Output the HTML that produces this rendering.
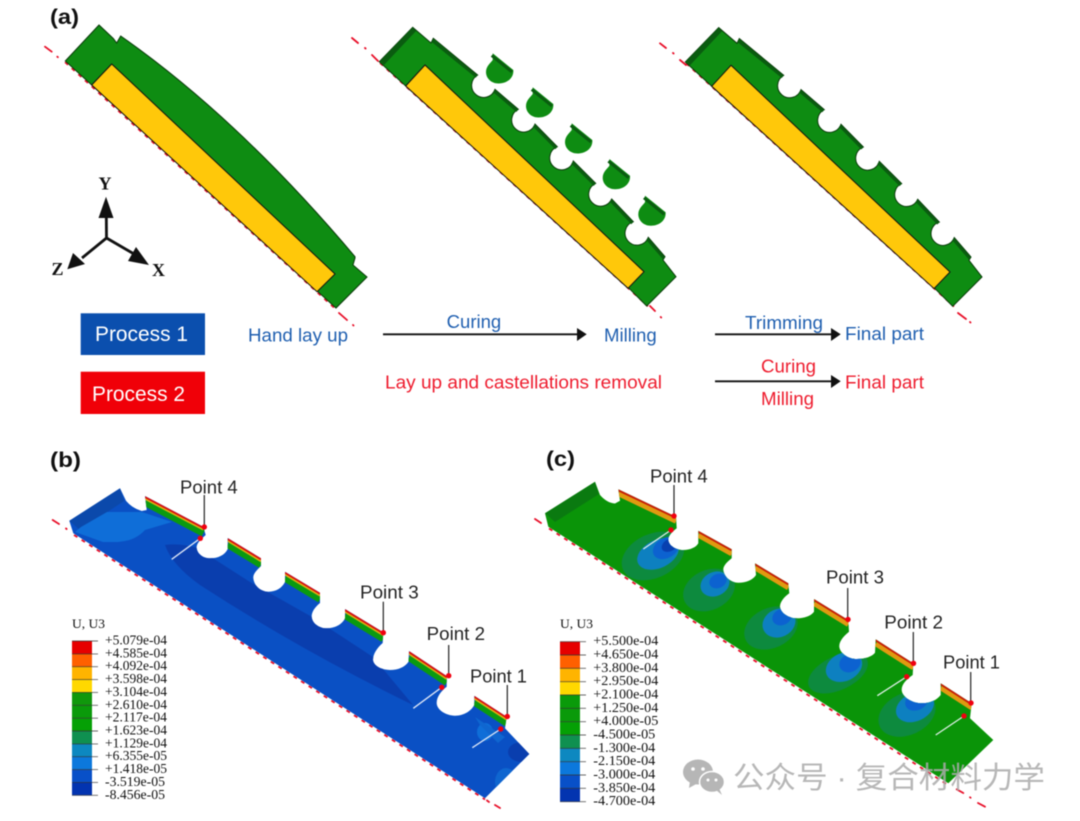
<!DOCTYPE html>
<html><head><meta charset="utf-8"><style>
html,body{margin:0;padding:0;background:#fff;width:1080px;height:821px;overflow:hidden}
svg{display:block;filter:blur(.4px)}
.s{font-family:"Liberation Sans",sans-serif}
.b{font-family:"Liberation Sans",sans-serif;font-weight:bold}
.l{font-family:"Liberation Serif",serif;fill:#111}
</style></head><body>
<svg width="1080" height="821" viewBox="0 0 1080 821" xmlns="http://www.w3.org/2000/svg">
<defs>
<path id="bodyB" d="M69.3 520.7 L120 488.3 L126 500.7 Q132 508 141.7 511 L146.7 510 L145 496 L203.3 526.7 L205.7 535 C200 540 196 544 196.7 548.3 C197.5 554 203 558.3 210 558.3 C218 558.3 225 555 227.7 549 L227.7 538 L261 558.3 L261 566 C256 571 253 574 253.3 578 C254 586 261 591.7 268.3 591.7 C276 591.7 282 588 285 582 L285 571.7 L320 592.7 L320 603 C315 607 311.5 612 311.7 616.7 C312 623 319 628.3 326.7 628.3 C334 628.3 342 625 345 618.3 L345 609 L383.3 632.3 L382.7 643 C377 648 373 654 373 660 C373.5 666 382 670 390 670 C398 670 405 667 408.5 661.7 L409 651 L446.7 676 L446.7 686.7 C441 691 436.5 697 436.7 703.3 C437 710 446 715.7 455 715.7 C464 715.7 471 711 474.3 705 L474.3 695.7 L506.7 716.7 L505 728.3 L529.3 754 L485 798.3 L73.3 533.3 Z"/>
<path id="bodyC" d="M545 513.3 L595 481.7 L600 495 Q607 503 615 503.5 L620 500.7 L618.3 489.3 L676 516.7 L676.7 528.3 C672 532 668 536 668.3 540 C669 546 676 550 683.3 550 C690 550 696 547.5 698.3 543.3 L698.3 530.7 L731.7 549.3 L731.7 558.3 C727 562 723 566 723.3 570 C724 577 731 582.7 738.3 582.7 C746 582.7 753 580 756 575 L755 563.3 L788.3 583.3 L789.3 593.3 C784 597 780 602 780 606.7 C780.5 613 789 618.3 796.7 618.3 C804 618.3 811 616 814 611.7 L814 599 L848.3 620 L849 631.7 C844 636 839 641 839.3 646.7 C840 653 848 659 856.7 659 C865 659 872 656.5 875 652.7 L875.7 639.3 L913.3 663.3 L912.7 675 C907 679 901.5 684 901.7 690 C902 697 912 703.3 921.7 703.3 C930 703.3 937 700 940.7 695 L940.7 683.3 L971.7 703.3 L970 718.3 L993.3 740 L948.3 783.3 L548.3 526.7 Z"/>
<clipPath id="cb"><use href="#bodyB"/></clipPath>
<clipPath id="cc"><use href="#bodyC"/></clipPath>
<path id="fb" d="M145 496 L203.3 526.7 M227.7 538 L261 558.3 M285 571.7 L320 592.7 M345 609 L383.3 632.3 M409 651 L446.7 676 M474.3 695.7 L506.7 716.7" fill="none"/>
<path id="fc" d="M618.3 489.3 L676 516.7 M698.3 530.7 L731.7 549.3 M755 563.3 L788.3 583.3 M814 599 L848.3 620 M875.7 639.3 L913.3 663.3 M940.7 683.3 L971.7 703.3" fill="none"/>
<g id="part">
<path d="M379.3 61.7 L412.7 27.3 L431 43 L433.3 38.3 L477.7 75 A12 12 0 1 0 495 89.3 L518.3 109.3 A12 12 0 1 0 535 124 L557.3 146.7 A12 12 0 1 0 573.3 161 L595.7 183.3 A12 12 0 1 0 611.7 199 L633.3 221.7 A12 12 0 1 0 648.3 237.3 L665 256.7 L663 260 L676 276.7 L646.7 306 L629 288.3 L405.7 86 Z" fill="#0e8c12" stroke="#0a3a0a" stroke-width="1"/>
<path d="M380 61 L412.7 27.3 L416 31 L384 65 Z" fill="#0a5c10"/>
<path d="M433.3 39 L477.7 75 M495 89.3 L518.3 109.3 M535 124 L557.3 146.7 M573.3 161 L595.7 183.3 M611.7 199 L633.3 221.7 M648.3 237.3 L665 256.7" stroke="#0a5c10" stroke-width="3" fill="none" transform="translate(-1,1.5)"/>
<polygon points="425,65 644,271.7 628,288.3 405.7,86" fill="#ffc80a" stroke="#111" stroke-width="1"/>
</g>
<g id="drop">
<path d="M492.7 53.3 L513.3 70 C514 78 507 83.5 498.5 83.5 C491 83.5 486 78 486 72 C486 66 491 62.5 492.7 60 Z" fill="#0e8c12"/>
<path d="M492.7 54 L513 70.5" stroke="#0a5c10" stroke-width="3" transform="translate(-1,1.5)"/>
</g>
</defs>

<!-- red centre lines panel a -->
<g stroke="#e8102a" stroke-width="1.8" fill="none" stroke-linecap="round">
<path d="M45 46.7 L51.7 51.7 M57.3 56.7 L57.9 57.2 M339 313 L347 320 M353 325 L353.5 325.5"/>
<path d="M352 38 L358 43 M365 48 L365.6 48.5 M372 55 L378 61 M650 306 L655 311 M660.7 317 L661.2 317.5"/>
<path d="M660 43.3 L666 48 M673 53 L673.6 53.5 M680 60 L686 65 M958 313 L966 319 M970 322 L970.5 322.5"/>
</g>
<g fill="none" stroke="#e8102a" stroke-width="1.6" stroke-dasharray="4 5">
<line x1="65" y1="62.2" x2="336" y2="309.5"/>
<line x1="380" y1="63" x2="648" y2="306.3"/>
<line x1="686" y1="63.3" x2="954" y2="306.6"/>
</g>

<!-- Panel a1 -->
<path d="M65.3 61 L99 25 L113.3 38.5 L116.7 43 L120.7 36 Q238 118 355 256.7 L355 258 L353 265 L367 277 L336 308 L318 291.7 L91.7 85 Z" fill="#0e8c12" stroke="#0a3a0a" stroke-width="1"/>
<polygon points="111.7,64 335,274 317,291.7 91.7,85" fill="#ffc80a" stroke="#111" stroke-width="1"/>

<!-- Panel a2 -->
<use href="#part"/>
<use href="#drop"/>
<use href="#drop" transform="translate(40,34)"/>
<use href="#drop" transform="translate(79,70)"/>
<use href="#drop" transform="translate(116.7,105.7)"/>
<use href="#drop" transform="translate(152.3,142.3)"/>

<!-- Panel a3 -->
<use href="#part" transform="translate(306,0.3)"/>

<!-- axes -->
<g stroke="#111" stroke-width="2.8" fill="#111">
<line x1="106.5" y1="238" x2="106.3" y2="215"/>
<line x1="106.5" y1="238" x2="82" y2="258"/>
<line x1="106.5" y1="238" x2="134" y2="254"/>
<polygon points="106,196.7 113.5,218 98.5,218" stroke="none"/>
<polygon points="67.3,269.3 73,253 85,264" stroke="none"/>
<polygon points="149,265 128,261 136,247" stroke="none"/>
</g>
<g font-family="Liberation Serif,serif" font-weight="bold" font-size="18" fill="#111" text-anchor="middle">
<text x="105" y="189.5">Y</text><text x="57.5" y="275">Z</text><text x="158.5" y="276">X</text>
</g>

<text class="b" x="50" y="24" font-size="21" fill="#111" textLength="29" lengthAdjust="spacingAndGlyphs">(a)</text>
<text class="b" x="50" y="467" font-size="21" fill="#111" textLength="31" lengthAdjust="spacingAndGlyphs">(b)</text>
<text class="b" x="546" y="466" font-size="21" fill="#111" textLength="29" lengthAdjust="spacingAndGlyphs">(c)</text>

<!-- process boxes -->
<rect x="80.7" y="313.3" width="124.3" height="41.7" fill="#0b4fae"/>
<rect x="80.7" y="371.7" width="124.3" height="42.3" fill="#f00008"/>
<text class="s" x="95" y="341" font-size="21" fill="#fff" textLength="93" lengthAdjust="spacingAndGlyphs">Process 1</text>
<text class="s" x="92" y="401" font-size="21" fill="#fff" textLength="93" lengthAdjust="spacingAndGlyphs">Process 2</text>

<!-- labels -->
<g class="s" font-size="18" fill="#1f5fb0">
<text x="248" y="341.7" textLength="100" lengthAdjust="spacingAndGlyphs">Hand lay up</text>
<text x="446.7" y="328" textLength="54.5" lengthAdjust="spacingAndGlyphs">Curing</text>
<text x="604" y="341.7" textLength="52.7" lengthAdjust="spacingAndGlyphs">Milling</text>
<text x="745" y="329" textLength="78" lengthAdjust="spacingAndGlyphs">Trimming</text>
<text x="845" y="340" textLength="79" lengthAdjust="spacingAndGlyphs">Final part</text>
</g>
<g class="s" font-size="18" fill="#ee1c2e">
<text x="385" y="388.7" textLength="277" lengthAdjust="spacingAndGlyphs">Lay up and castellations removal</text>
<text x="761" y="372.7" textLength="55" lengthAdjust="spacingAndGlyphs">Curing</text>
<text x="761" y="405" textLength="53" lengthAdjust="spacingAndGlyphs">Milling</text>
<text x="845" y="388.3" textLength="79" lengthAdjust="spacingAndGlyphs">Final part</text>
</g>
<g stroke="#111" stroke-width="1.8" fill="#111">
<line x1="383" y1="334.3" x2="578" y2="334.3"/>
<polygon points="586.7,334.3 577,328 577,341" stroke="none"/>
<line x1="715" y1="334.3" x2="833" y2="334.3"/>
<polygon points="840.7,334.3 831,328 831,341" stroke="none"/>
<line x1="715" y1="381.3" x2="833" y2="381.3"/>
<polygon points="840.7,381.3 831,375 831,388" stroke="none"/>
</g>

<!-- Panel b -->
<g fill="none" stroke="#e8102a" stroke-width="1.8" stroke-linecap="round">
<path d="M52.7 520 L59 524 M66 528.5 L66.6 529 M487 800.5 L489 802 M495 805 L500 808"/>
<line x1="74" y1="535" x2="485" y2="799.5" stroke-dasharray="4 5" stroke-linecap="butt"/>
</g>
<use href="#bodyB" fill="#0a50c4"/>
<g clip-path="url(#cb)">
<polygon points="69.3,520.7 120,488.3 124,501 80,530" fill="#0b49ab"/>
<path d="M75 532 L81 527 L107 512 L142 512 L172 522 L145 530 Q135 541 118 542 L103 542 Z" fill="#0f6ed8"/>
<path d="M165 545 Q180 543 197 548 L250 582 L312 617 L373 657 L413 705 Q300 650 200 585 Q172 565 165 545 Z" fill="#0a3eae"/>
<ellipse cx="485" cy="732" rx="8" ry="9" fill="#0f6ed8"/>
<path d="M475 717 L505 737 L498 743 L480 725 Z" fill="#0f66d0"/>
<ellipse cx="522" cy="752" rx="14" ry="10" fill="#0a3eae"/>
<ellipse cx="506" cy="782" rx="11" ry="14" fill="#0f66d0"/>
<use href="#fb" stroke="#0a9a10" stroke-width="7" transform="translate(0,6.5)"/>
<use href="#fb" stroke="#e0b010" stroke-width="2" transform="translate(0,2.8)"/>
<use href="#fb" stroke="#d81010" stroke-width="2" transform="translate(0,1)"/>
</g>
<g stroke="#dfe8f8" stroke-width="1.3">
<line x1="200.3" y1="538.3" x2="171.7" y2="559.3"/>
<line x1="441.7" y1="687.3" x2="413.3" y2="708.3"/>
<line x1="500.7" y1="729" x2="472.3" y2="747.7"/>
</g>
<g stroke="#222" stroke-width="1.2">
<line x1="204.3" y1="495" x2="204.3" y2="527"/>
<line x1="383.3" y1="601.7" x2="383.3" y2="632"/>
<line x1="448.7" y1="645" x2="448.7" y2="675.7"/>
<line x1="507.3" y1="685" x2="507.3" y2="716"/>
</g>
<g fill="#f00010">
<circle cx="204.3" cy="527" r="2.7"/><circle cx="200.3" cy="538.3" r="2.7"/>
<circle cx="383.3" cy="632.7" r="2.7"/>
<circle cx="448.7" cy="675.7" r="2.7"/><circle cx="441.7" cy="687.3" r="2.7"/>
<circle cx="507.3" cy="716.5" r="2.7"/><circle cx="500.7" cy="729" r="2.7"/>
</g>
<g class="s" font-size="18" fill="#222">
<text x="180" y="493.3" textLength="57.7" lengthAdjust="spacingAndGlyphs">Point 4</text>
<text x="360" y="598.3" textLength="58.7" lengthAdjust="spacingAndGlyphs">Point 3</text>
<text x="426.7" y="640" textLength="58.3" lengthAdjust="spacingAndGlyphs">Point 2</text>
<text x="470" y="682.7" textLength="57" lengthAdjust="spacingAndGlyphs">Point 1</text>
</g>

<!-- Legend b -->
<g>
<rect x="72" y="641" width="20" height="13" fill="#e60000"/>
<rect x="72" y="653.9" width="20" height="13" fill="#ff6000"/>
<rect x="72" y="666.7" width="20" height="13" fill="#ffb400"/>
<rect x="72" y="679.6" width="20" height="13" fill="#ffd800"/>
<rect x="72" y="692.4" width="20" height="13" fill="#10980c"/>
<rect x="72" y="705.3" width="20" height="13" fill="#0a9a0a"/>
<rect x="72" y="718.2" width="20" height="13" fill="#05a005"/>
<rect x="72" y="731" width="20" height="13" fill="#0f9050"/>
<rect x="72" y="743.9" width="20" height="13" fill="#0d88c0"/>
<rect x="72" y="756.7" width="20" height="13" fill="#0c78dc"/>
<rect x="72" y="769.6" width="20" height="13" fill="#0850c8"/>
<rect x="72" y="782.4" width="20" height="12.9" fill="#0334b0"/>
</g>
<g stroke="#333" stroke-width="0.9" opacity=".75">
<line x1="72" x2="98" y1="641" y2="641"/><line x1="72" x2="98" y1="653.9" y2="653.9"/><line x1="72" x2="98" y1="666.7" y2="666.7"/><line x1="72" x2="98" y1="679.6" y2="679.6"/><line x1="72" x2="98" y1="692.4" y2="692.4"/><line x1="72" x2="98" y1="705.3" y2="705.3"/><line x1="72" x2="98" y1="718.2" y2="718.2"/><line x1="72" x2="98" y1="731" y2="731"/><line x1="72" x2="98" y1="743.9" y2="743.9"/><line x1="72" x2="98" y1="756.7" y2="756.7"/><line x1="72" x2="98" y1="769.6" y2="769.6"/><line x1="72" x2="98" y1="782.4" y2="782.4"/><line x1="72" x2="98" y1="795.3" y2="795.3"/>
</g>
<g class="l" font-size="13.5">
<text x="72" y="628" font-size="13" textLength="33" lengthAdjust="spacingAndGlyphs">U, U3</text>
<text x="105" y="644.5" textLength="62" lengthAdjust="spacingAndGlyphs">+5.079e-04</text>
<text x="105" y="657.4" textLength="62" lengthAdjust="spacingAndGlyphs">+4.585e-04</text>
<text x="105" y="670.2" textLength="62" lengthAdjust="spacingAndGlyphs">+4.092e-04</text>
<text x="105" y="683.1" textLength="62" lengthAdjust="spacingAndGlyphs">+3.598e-04</text>
<text x="105" y="695.9" textLength="62" lengthAdjust="spacingAndGlyphs">+3.104e-04</text>
<text x="105" y="708.8" textLength="62" lengthAdjust="spacingAndGlyphs">+2.610e-04</text>
<text x="105" y="721.7" textLength="62" lengthAdjust="spacingAndGlyphs">+2.117e-04</text>
<text x="105" y="734.5" textLength="62" lengthAdjust="spacingAndGlyphs">+1.623e-04</text>
<text x="105" y="747.4" textLength="62" lengthAdjust="spacingAndGlyphs">+1.129e-04</text>
<text x="105" y="760.2" textLength="62" lengthAdjust="spacingAndGlyphs">+6.355e-05</text>
<text x="105" y="773.1" textLength="62" lengthAdjust="spacingAndGlyphs">+1.418e-05</text>
<text x="105" y="785.9" textLength="60" lengthAdjust="spacingAndGlyphs">-3.519e-05</text>
<text x="105" y="798.8" textLength="60" lengthAdjust="spacingAndGlyphs">-8.456e-05</text>
</g>

<!-- Panel c -->
<g fill="none" stroke="#e8102a" stroke-width="1.8" stroke-linecap="round">
<path d="M535 519 L541 523 M956.7 789.3 L963.3 793 M970 797.3 L970.6 797.7 M978 803 L985 806.7"/>
<line x1="549" y1="528.5" x2="948" y2="785" stroke-dasharray="4 5" stroke-linecap="butt"/>
</g>
<use href="#bodyC" fill="#0a9408"/>
<g clip-path="url(#cc)">
<polygon points="545,513 595,481.7 599,494 555,522" fill="#0a7a10"/>
<g transform="rotate(-25 653 556)"><ellipse cx="653" cy="556" rx="33" ry="22" fill="#0d8a3e"/></g>
<g transform="rotate(-25 658 554)"><ellipse cx="658" cy="554" rx="22" ry="14" fill="#0d80c0"/></g>
<g transform="rotate(-30 666 548)"><ellipse cx="666" cy="548" rx="14" ry="10" fill="#0c62d0"/></g>
<g transform="rotate(-30 670 545)"><ellipse cx="670" cy="545" rx="9" ry="6" fill="#0840b0"/></g>
<g transform="rotate(-25 709 590)"><ellipse cx="709" cy="590" rx="27" ry="20" fill="#0d8a3e"/></g>
<g transform="rotate(-25 715 584)"><ellipse cx="715" cy="584" rx="15" ry="12" fill="#0d80c0"/></g>
<g transform="rotate(-25 718 581)"><ellipse cx="718" cy="581" rx="9" ry="7" fill="#0c62d0"/></g>
<g transform="rotate(-25 771 628)"><ellipse cx="771" cy="628" rx="28" ry="20" fill="#0d8a3e"/></g>
<g transform="rotate(-25 779 623)"><ellipse cx="779" cy="623" rx="17" ry="14" fill="#0d80c0"/></g>
<g transform="rotate(-25 782 617)"><ellipse cx="782" cy="617" rx="10" ry="8" fill="#0c62d0"/></g>
<g transform="rotate(-25 838 673)"><ellipse cx="838" cy="673" rx="32" ry="17" fill="#0d8a3e"/></g>
<g transform="rotate(-25 844 667)"><ellipse cx="844" cy="667" rx="19" ry="14" fill="#0d80c0"/></g>
<g transform="rotate(-25 850 663)"><ellipse cx="850" cy="663" rx="11" ry="9" fill="#0c62d0"/></g>
<g transform="rotate(-25 907 714)"><ellipse cx="907" cy="714" rx="30" ry="21" fill="#0d8a3e"/></g>
<g transform="rotate(-25 915 707)"><ellipse cx="915" cy="707" rx="20" ry="14" fill="#0d80c0"/></g>
<g transform="rotate(-25 913 705)"><ellipse cx="918" cy="703" rx="12" ry="9" fill="#0c62d0"/></g>
<use href="#fc" stroke="#e09a10" stroke-width="5" transform="translate(0,4.5)"/>
<use href="#fc" stroke="#c81c08" stroke-width="2" transform="translate(0,1)"/>
</g>
<g stroke="#dff0e8" stroke-width="1.3">
<line x1="671" y1="530" x2="643.3" y2="549"/>
<line x1="906.7" y1="676.7" x2="877.3" y2="695.7"/>
<line x1="964" y1="716" x2="935.7" y2="735"/>
</g>
<g stroke="#222" stroke-width="1.2">
<line x1="674" y1="485" x2="674" y2="516"/>
<line x1="847.7" y1="588" x2="847.7" y2="619"/>
<line x1="913.3" y1="632" x2="913.3" y2="663"/>
<line x1="970.7" y1="672" x2="970.7" y2="703"/>
</g>
<g fill="#f00010">
<circle cx="674" cy="516" r="2.7"/><circle cx="671" cy="530" r="2.7"/>
<circle cx="848" cy="619.5" r="2.7"/>
<circle cx="913.5" cy="663.3" r="2.7"/><circle cx="906.7" cy="676.7" r="2.7"/>
<circle cx="971" cy="703" r="2.7"/><circle cx="964" cy="716" r="2.7"/>
</g>
<g class="s" font-size="18" fill="#222">
<text x="650" y="482.7" textLength="57.7" lengthAdjust="spacingAndGlyphs">Point 4</text>
<text x="826" y="583.3" textLength="58" lengthAdjust="spacingAndGlyphs">Point 3</text>
<text x="884.3" y="628.3" textLength="58.7" lengthAdjust="spacingAndGlyphs">Point 2</text>
<text x="943" y="668.3" textLength="57" lengthAdjust="spacingAndGlyphs">Point 1</text>
</g>

<!-- Legend c -->
<g>
<rect x="560" y="641.7" width="20" height="13.5" fill="#e60000"/>
<rect x="560" y="655" width="20" height="13.5" fill="#ff6000"/>
<rect x="560" y="668.3" width="20" height="13.5" fill="#ffb400"/>
<rect x="560" y="681.7" width="20" height="13.5" fill="#ffd800"/>
<rect x="560" y="695" width="20" height="13.5" fill="#0a9a0a"/>
<rect x="560" y="708.3" width="20" height="13.5" fill="#0a9a0a"/>
<rect x="560" y="721.7" width="20" height="13.5" fill="#05a005"/>
<rect x="560" y="735" width="20" height="13.5" fill="#0f9050"/>
<rect x="560" y="748.3" width="20" height="13.5" fill="#0d88c0"/>
<rect x="560" y="761.7" width="20" height="13.5" fill="#0c78dc"/>
<rect x="560" y="775" width="20" height="13.5" fill="#0850c8"/>
<rect x="560" y="788.3" width="20" height="13.4" fill="#0334b0"/>
</g>
<g stroke="#333" stroke-width="0.9" opacity=".75">
<line x1="560" x2="586" y1="641.7" y2="641.7"/><line x1="560" x2="586" y1="655" y2="655"/><line x1="560" x2="586" y1="668.3" y2="668.3"/><line x1="560" x2="586" y1="681.7" y2="681.7"/><line x1="560" x2="586" y1="695" y2="695"/><line x1="560" x2="586" y1="708.3" y2="708.3"/><line x1="560" x2="586" y1="721.7" y2="721.7"/><line x1="560" x2="586" y1="735" y2="735"/><line x1="560" x2="586" y1="748.3" y2="748.3"/><line x1="560" x2="586" y1="761.7" y2="761.7"/><line x1="560" x2="586" y1="775" y2="775"/><line x1="560" x2="586" y1="788.3" y2="788.3"/><line x1="560" x2="586" y1="801.7" y2="801.7"/>
</g>
<g class="l" font-size="14">
<text x="560" y="628" font-size="13" textLength="33" lengthAdjust="spacingAndGlyphs">U, U3</text>
<text x="593.3" y="645.2" textLength="65" lengthAdjust="spacingAndGlyphs">+5.500e-04</text>
<text x="593.3" y="658.5" textLength="65" lengthAdjust="spacingAndGlyphs">+4.650e-04</text>
<text x="593.3" y="671.8" textLength="65" lengthAdjust="spacingAndGlyphs">+3.800e-04</text>
<text x="593.3" y="685.2" textLength="65" lengthAdjust="spacingAndGlyphs">+2.950e-04</text>
<text x="593.3" y="698.5" textLength="65" lengthAdjust="spacingAndGlyphs">+2.100e-04</text>
<text x="593.3" y="711.8" textLength="65" lengthAdjust="spacingAndGlyphs">+1.250e-04</text>
<text x="593.3" y="725.2" textLength="65" lengthAdjust="spacingAndGlyphs">+4.000e-05</text>
<text x="593.3" y="738.5" textLength="62" lengthAdjust="spacingAndGlyphs">-4.500e-05</text>
<text x="593.3" y="751.8" textLength="62" lengthAdjust="spacingAndGlyphs">-1.300e-04</text>
<text x="593.3" y="765.2" textLength="62" lengthAdjust="spacingAndGlyphs">-2.150e-04</text>
<text x="593.3" y="778.5" textLength="62" lengthAdjust="spacingAndGlyphs">-3.000e-04</text>
<text x="593.3" y="791.8" textLength="62" lengthAdjust="spacingAndGlyphs">-3.850e-04</text>
<text x="593.3" y="805.2" textLength="62" lengthAdjust="spacingAndGlyphs">-4.700e-04</text>
</g>

<!-- Watermark -->
<g>
<ellipse cx="698" cy="772" rx="15" ry="12.5" fill="#b6b6b6"/>
<polygon points="690,781 689,788 698,783" fill="#b6b6b6"/>
<ellipse cx="712" cy="782" rx="12.5" ry="10.5" fill="#b6b6b6" stroke="#fff" stroke-width="1.5"/>
<polygon points="716,790 722,795 718,786" fill="#b6b6b6"/>
<circle cx="693" cy="769" r="1.8" fill="#fff"/><circle cx="703" cy="769" r="1.8" fill="#fff"/>
<circle cx="708" cy="780" r="1.5" fill="#fff"/><circle cx="716" cy="780" r="1.5" fill="#fff"/>
</g>
<text x="733" y="788" font-family="Liberation Sans,Noto Sans CJK SC,sans-serif" font-size="30" fill="#aaa" fill-opacity=".85" textLength="312" lengthAdjust="spacingAndGlyphs">公众号 · 复合材料力学</text>
</svg>
</body></html>
